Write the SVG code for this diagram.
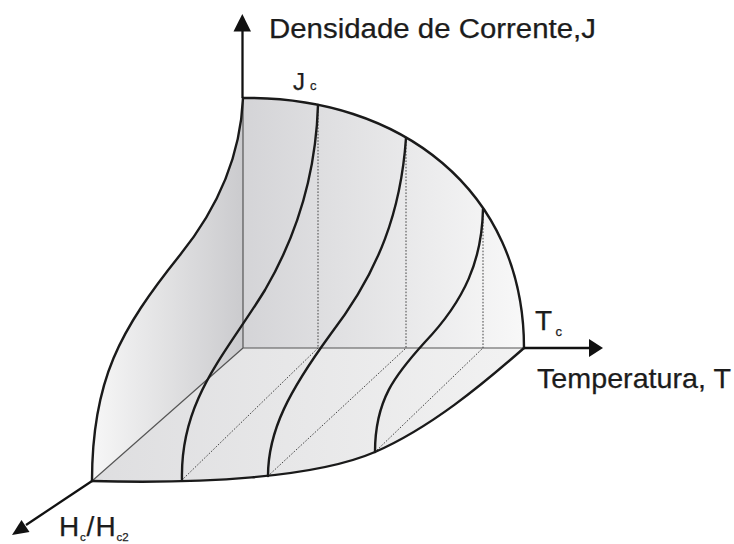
<svg xmlns="http://www.w3.org/2000/svg" width="734" height="544" viewBox="0 0 734 544">
<defs>
<style>
.edge{fill:none;stroke:#1a1a1a;stroke-width:2.4;stroke-linecap:round;stroke-linejoin:round}
.inner{fill:none;stroke:#555;stroke-width:1.2}
.dot{fill:none;stroke:#444;stroke-width:1;stroke-dasharray:1.6 1.6}
.axis{fill:none;stroke:#111;stroke-width:2.3}
.head{fill:#111;stroke:none}
text{font-family:"Liberation Sans",Arial,sans-serif;fill:#1c1c1c;stroke:#1c1c1c;stroke-width:0.25}
</style>
<linearGradient id="gBack" gradientUnits="userSpaceOnUse" x1="243" y1="0" x2="524" y2="0">
<stop offset="0" stop-color="#d4d4d7"/>
<stop offset="1" stop-color="#f8f8f8"/>
</linearGradient>
<linearGradient id="gLeft" gradientUnits="userSpaceOnUse" x1="95" y1="0" x2="243" y2="0">
<stop offset="0" stop-color="#f6f6f6"/>
<stop offset="1" stop-color="#cbcbce"/>
</linearGradient>
<linearGradient id="gFloor" gradientUnits="userSpaceOnUse" x1="92" y1="0" x2="524" y2="0">
<stop offset="0" stop-color="#dedee0"/>
<stop offset="1" stop-color="#f2f2f2"/>
</linearGradient>
</defs>
<rect width="734" height="544" fill="#ffffff"/>

<g id="surface">
<path id="floor" fill="url(#gFloor)" d="M243,348 L524,348 C482,385 430,428 375,452 C315,478 200,484 92,481 Z"/>
<path id="back-wall" fill="url(#gBack)" d="M243,98 C400,96 524,190 524,348 L243,348 Z"/>
<path id="left-wall" fill="url(#gLeft)" d="M243,98 C241,145 226,198 180,255 C120,330 92,380 92,481 L243,348 Z"/>
</g>

<g id="connectors">
<path class="inner" d="M243,98 L243,348 L524,348 M243,348 L92,481"/>
<path class="dot" d="M318,105 L318,348 L182,480 M406,138 L406,348 L268,476 M483,209 L483,348 L375,452"/>
<path class="edge" d="M243,98 C400,96 524,190 524,348"/>
<path class="edge" d="M243,98 C241,145 226,198 180,255 C120,330 92,380 92,481"/>
<path class="edge" d="M92,481 C200,484 315,478 375,452 C430,428 482,385 524,348"/>
<path class="edge" d="M318,105 C316,170 300,230 265,290 C225,355 180,400 182,480"/>
<path class="edge" d="M406,138 C401,210 380,270 330,335 C290,390 268,430 268,476"/>
<path class="edge" d="M483,209 C482,260 465,300 425,342 C395,375 375,400 375,452"/>
<path class="axis" d="M242.5,98 L242.5,30"/>
<polygon class="head" points="242.3,14 233.5,31.5 251,31.5"/>
<path class="axis" d="M524,348 L591,348"/>
<polygon class="head" points="603,348 589,339 589,357"/>
<path class="axis" d="M92,481 L26,525"/>
<polygon class="head" points="12,535 29.5,532 21.5,520"/>
</g>

<g id="labels">
<text x="269" y="37.5" font-size="27" textLength="327" lengthAdjust="spacingAndGlyphs">Densidade de Corrente,J</text>
<text x="293" y="90" font-size="24">J<tspan x="310" font-size="13">c</tspan></text>
<text x="535" y="329.5" font-size="28">T<tspan x="555.5" y="336" font-size="13">c</tspan></text>
<text x="537" y="388" font-size="28" textLength="194" lengthAdjust="spacingAndGlyphs">Temperatura, T</text>
<text x="59" y="536" font-size="28">H<tspan x="80" y="541" font-size="11.5">c</tspan><tspan x="86.5" y="536" font-size="28">/</tspan><tspan x="95.5" y="536" font-size="28">H</tspan><tspan x="116.5" y="541" font-size="11.5">c2</tspan></text>
</g>
</svg>
